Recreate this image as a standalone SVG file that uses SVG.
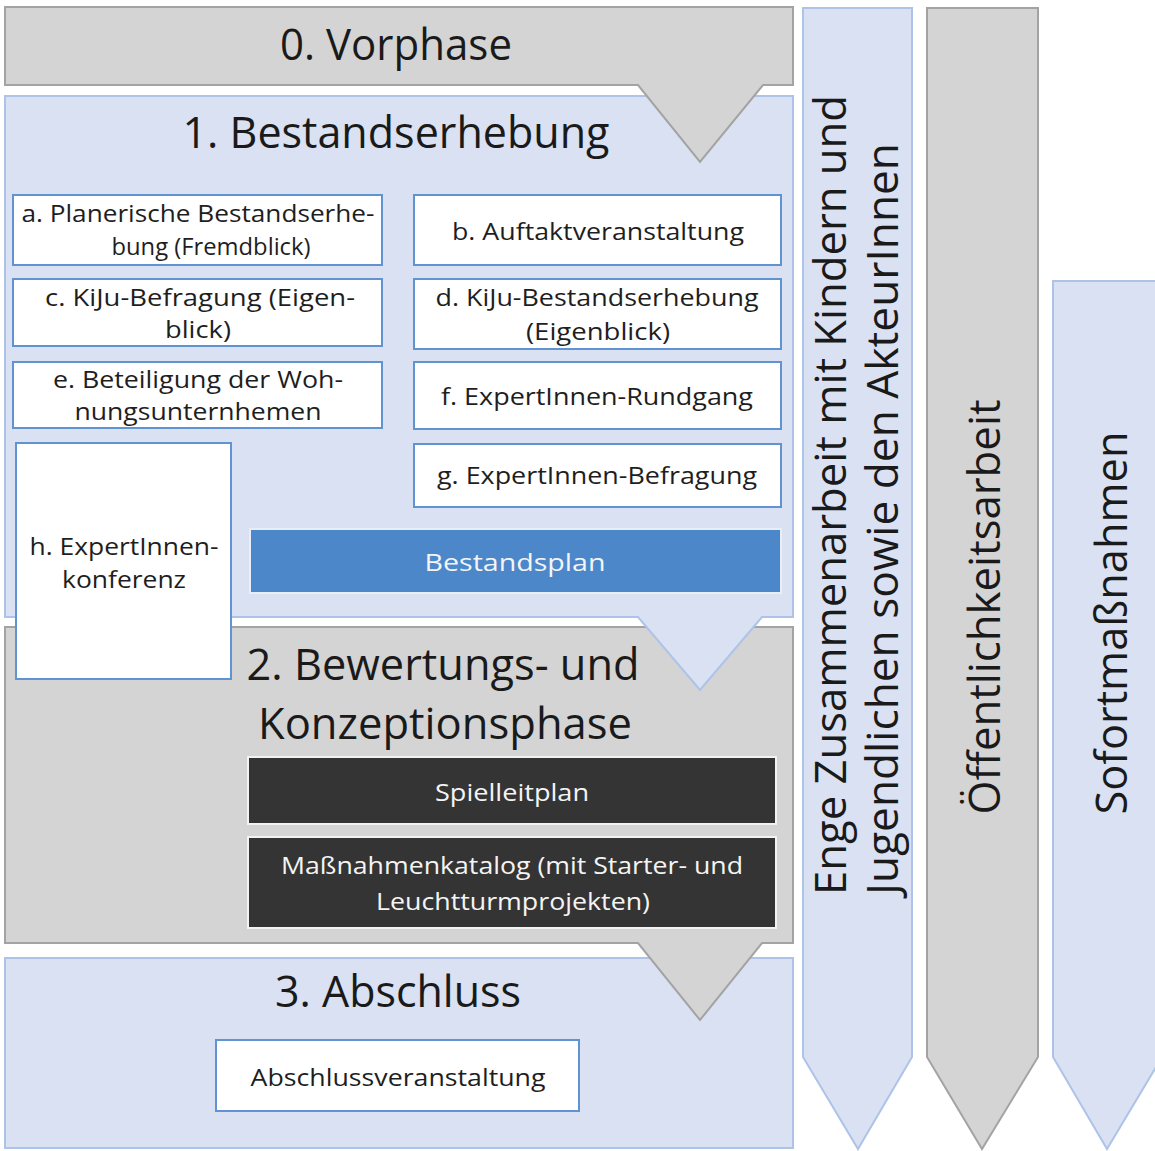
<svg xmlns="http://www.w3.org/2000/svg" width="1155" height="1151" viewBox="0 0 1155 1151">
<style>
.grey{fill:#d4d4d4;stroke:#a3a3a3;stroke-width:2}
.blue{fill:#d9e1f2;stroke:#adc3e8;stroke-width:2}
.box{fill:#ffffff;stroke:#5f93d2;stroke-width:2}
.dark{fill:#343434;stroke:#f2f2f2;stroke-width:2}
.plan{fill:#4c87c9;stroke:#e8eef8;stroke-width:2}
.title{font-family:"Open Sans","Liberation Sans",sans-serif;font-size:44px;fill:#1a1a1a;text-anchor:middle}
.t{font-family:"Open Sans","Liberation Sans",sans-serif;font-size:23px;fill:#1e1e1e;text-anchor:middle}
.tw{font-family:"Open Sans","Liberation Sans",sans-serif;font-size:23px;fill:#f4f4f4;text-anchor:middle}
.vt{font-family:"Open Sans","Liberation Sans",sans-serif;font-size:44px;fill:#1a1a1a;text-anchor:middle}
</style>
<rect width="1155" height="1151" fill="#ffffff"/>

<g id="phase3">
<rect class="blue" x="5" y="958" width="788" height="190"/>
<text class="title" x="398" y="1007" textLength="246" lengthAdjust="spacingAndGlyphs">3. Abschluss</text>
</g>
<g id="phase2">
<path class="grey" d="M5,627 H793 V943 H762 L700,1020 L638,943 H5 Z"/>
<text class="title" x="443" y="680" textLength="393" lengthAdjust="spacingAndGlyphs">2. Bewertungs- und</text>
<text class="title" x="445" y="739" textLength="374" lengthAdjust="spacingAndGlyphs">Konzeptionsphase</text>
</g>
<g id="phase1">
<path class="blue" d="M5,96 H793 V617 H762 L700,690 L638,617 H5 Z"/>
<text class="title" x="396" y="148" textLength="427" lengthAdjust="spacingAndGlyphs">1. Bestandserhebung</text>
</g>
<g id="phase0">
<path class="grey" d="M5,7 H793 V85 H763 L700,162 L638,85 H5 Z"/>
<text class="title" x="396" y="60" textLength="232" lengthAdjust="spacingAndGlyphs">0. Vorphase</text>
</g>

<g id="col-zusammenarbeit">
<path class="blue" d="M803,8 H912 V1057 L858,1149 L803,1057 Z"/>
<text class="vt" transform="translate(846,495) rotate(-90)" textLength="800" lengthAdjust="spacingAndGlyphs">Enge Zusammenarbeit mit Kindern und</text>
<text class="vt" transform="translate(898,519) rotate(-90)" textLength="752" lengthAdjust="spacingAndGlyphs">Jugendlichen sowie den AkteurInnen</text>
</g>
<g id="col-oeffentlichkeit">
<path class="grey" d="M927,8 H1038 V1057 L982,1149 L927,1057 Z"/>
<text class="vt" transform="translate(1000,607) rotate(-90)" textLength="415" lengthAdjust="spacingAndGlyphs">Öffentlichkeitsarbeit</text>
</g>
<g id="col-sofort">
<path class="blue" d="M1053,281 H1162 V1057 L1107,1149 L1053,1057 Z"/>
<text class="vt" transform="translate(1127,623) rotate(-90)" textLength="383" lengthAdjust="spacingAndGlyphs">Sofortmaßnahmen</text>
</g>

<g id="node-a">
<rect class="box" x="13" y="195" width="369" height="70"/>
<text class="t" x="198" y="222" textLength="353" lengthAdjust="spacingAndGlyphs">a. Planerische Bestandserhe-</text>
<text class="t" x="211" y="255" textLength="199" lengthAdjust="spacingAndGlyphs">bung (Fremdblick)</text>
</g>
<g id="node-b">
<rect class="box" x="414" y="195" width="367" height="70"/>
<text class="t" x="598" y="240" textLength="292" lengthAdjust="spacingAndGlyphs">b. Auftaktveranstaltung</text>
</g>
<g id="node-c">
<rect class="box" x="13" y="279" width="369" height="67"/>
<text class="t" x="200" y="306" textLength="310" lengthAdjust="spacingAndGlyphs">c. KiJu-Befragung (Eigen-</text>
<text class="t" x="198" y="338" textLength="66" lengthAdjust="spacingAndGlyphs">blick)</text>
</g>
<g id="node-d">
<rect class="box" x="414" y="279" width="367" height="70"/>
<text class="t" x="597" y="306" textLength="323" lengthAdjust="spacingAndGlyphs">d. KiJu-Bestandserhebung</text>
<text class="t" x="598" y="340" textLength="144" lengthAdjust="spacingAndGlyphs">(Eigenblick)</text>
</g>
<g id="node-e">
<rect class="box" x="13" y="362" width="369" height="66"/>
<text class="t" x="198" y="388" textLength="290" lengthAdjust="spacingAndGlyphs">e. Beteiligung der Woh-</text>
<text class="t" x="198" y="420" textLength="247" lengthAdjust="spacingAndGlyphs">nungsunternhemen</text>
</g>
<g id="node-f">
<rect class="box" x="414" y="362" width="367" height="67"/>
<text class="t" x="597" y="405" textLength="312" lengthAdjust="spacingAndGlyphs">f. ExpertInnen-Rundgang</text>
</g>
<g id="node-g">
<rect class="box" x="414" y="444" width="367" height="63"/>
<text class="t" x="597" y="484" textLength="320" lengthAdjust="spacingAndGlyphs">g. ExpertInnen-Befragung</text>
</g>
<g id="node-h">
<rect class="box" x="16" y="443" width="215" height="236"/>
<text class="t" x="124" y="555" textLength="189" lengthAdjust="spacingAndGlyphs">h. ExpertInnen-</text>
<text class="t" x="124" y="588" textLength="124" lengthAdjust="spacingAndGlyphs">konferenz</text>
</g>
<g id="node-bestandsplan">
<rect class="plan" x="250" y="529" width="531" height="64"/>
<text class="tw" x="515" y="571" textLength="181" lengthAdjust="spacingAndGlyphs">Bestandsplan</text>
</g>
<g id="node-spielleitplan">
<rect class="dark" x="248" y="757" width="528" height="67"/>
<text class="tw" x="512" y="801" textLength="154" lengthAdjust="spacingAndGlyphs">Spielleitplan</text>
</g>
<g id="node-massnahmen">
<rect class="dark" x="248" y="837" width="528" height="91"/>
<text class="tw" x="512" y="874" textLength="462" lengthAdjust="spacingAndGlyphs">Maßnahmenkatalog (mit Starter- und</text>
<text class="tw" x="513" y="910" textLength="274" lengthAdjust="spacingAndGlyphs">Leuchtturmprojekten)</text>
</g>
<g id="node-abschluss">
<rect class="box" x="216" y="1040" width="363" height="71"/>
<text class="t" x="398" y="1086" textLength="295" lengthAdjust="spacingAndGlyphs">Abschlussveranstaltung</text>
</g>
<g id="connectors"/>
</svg>
